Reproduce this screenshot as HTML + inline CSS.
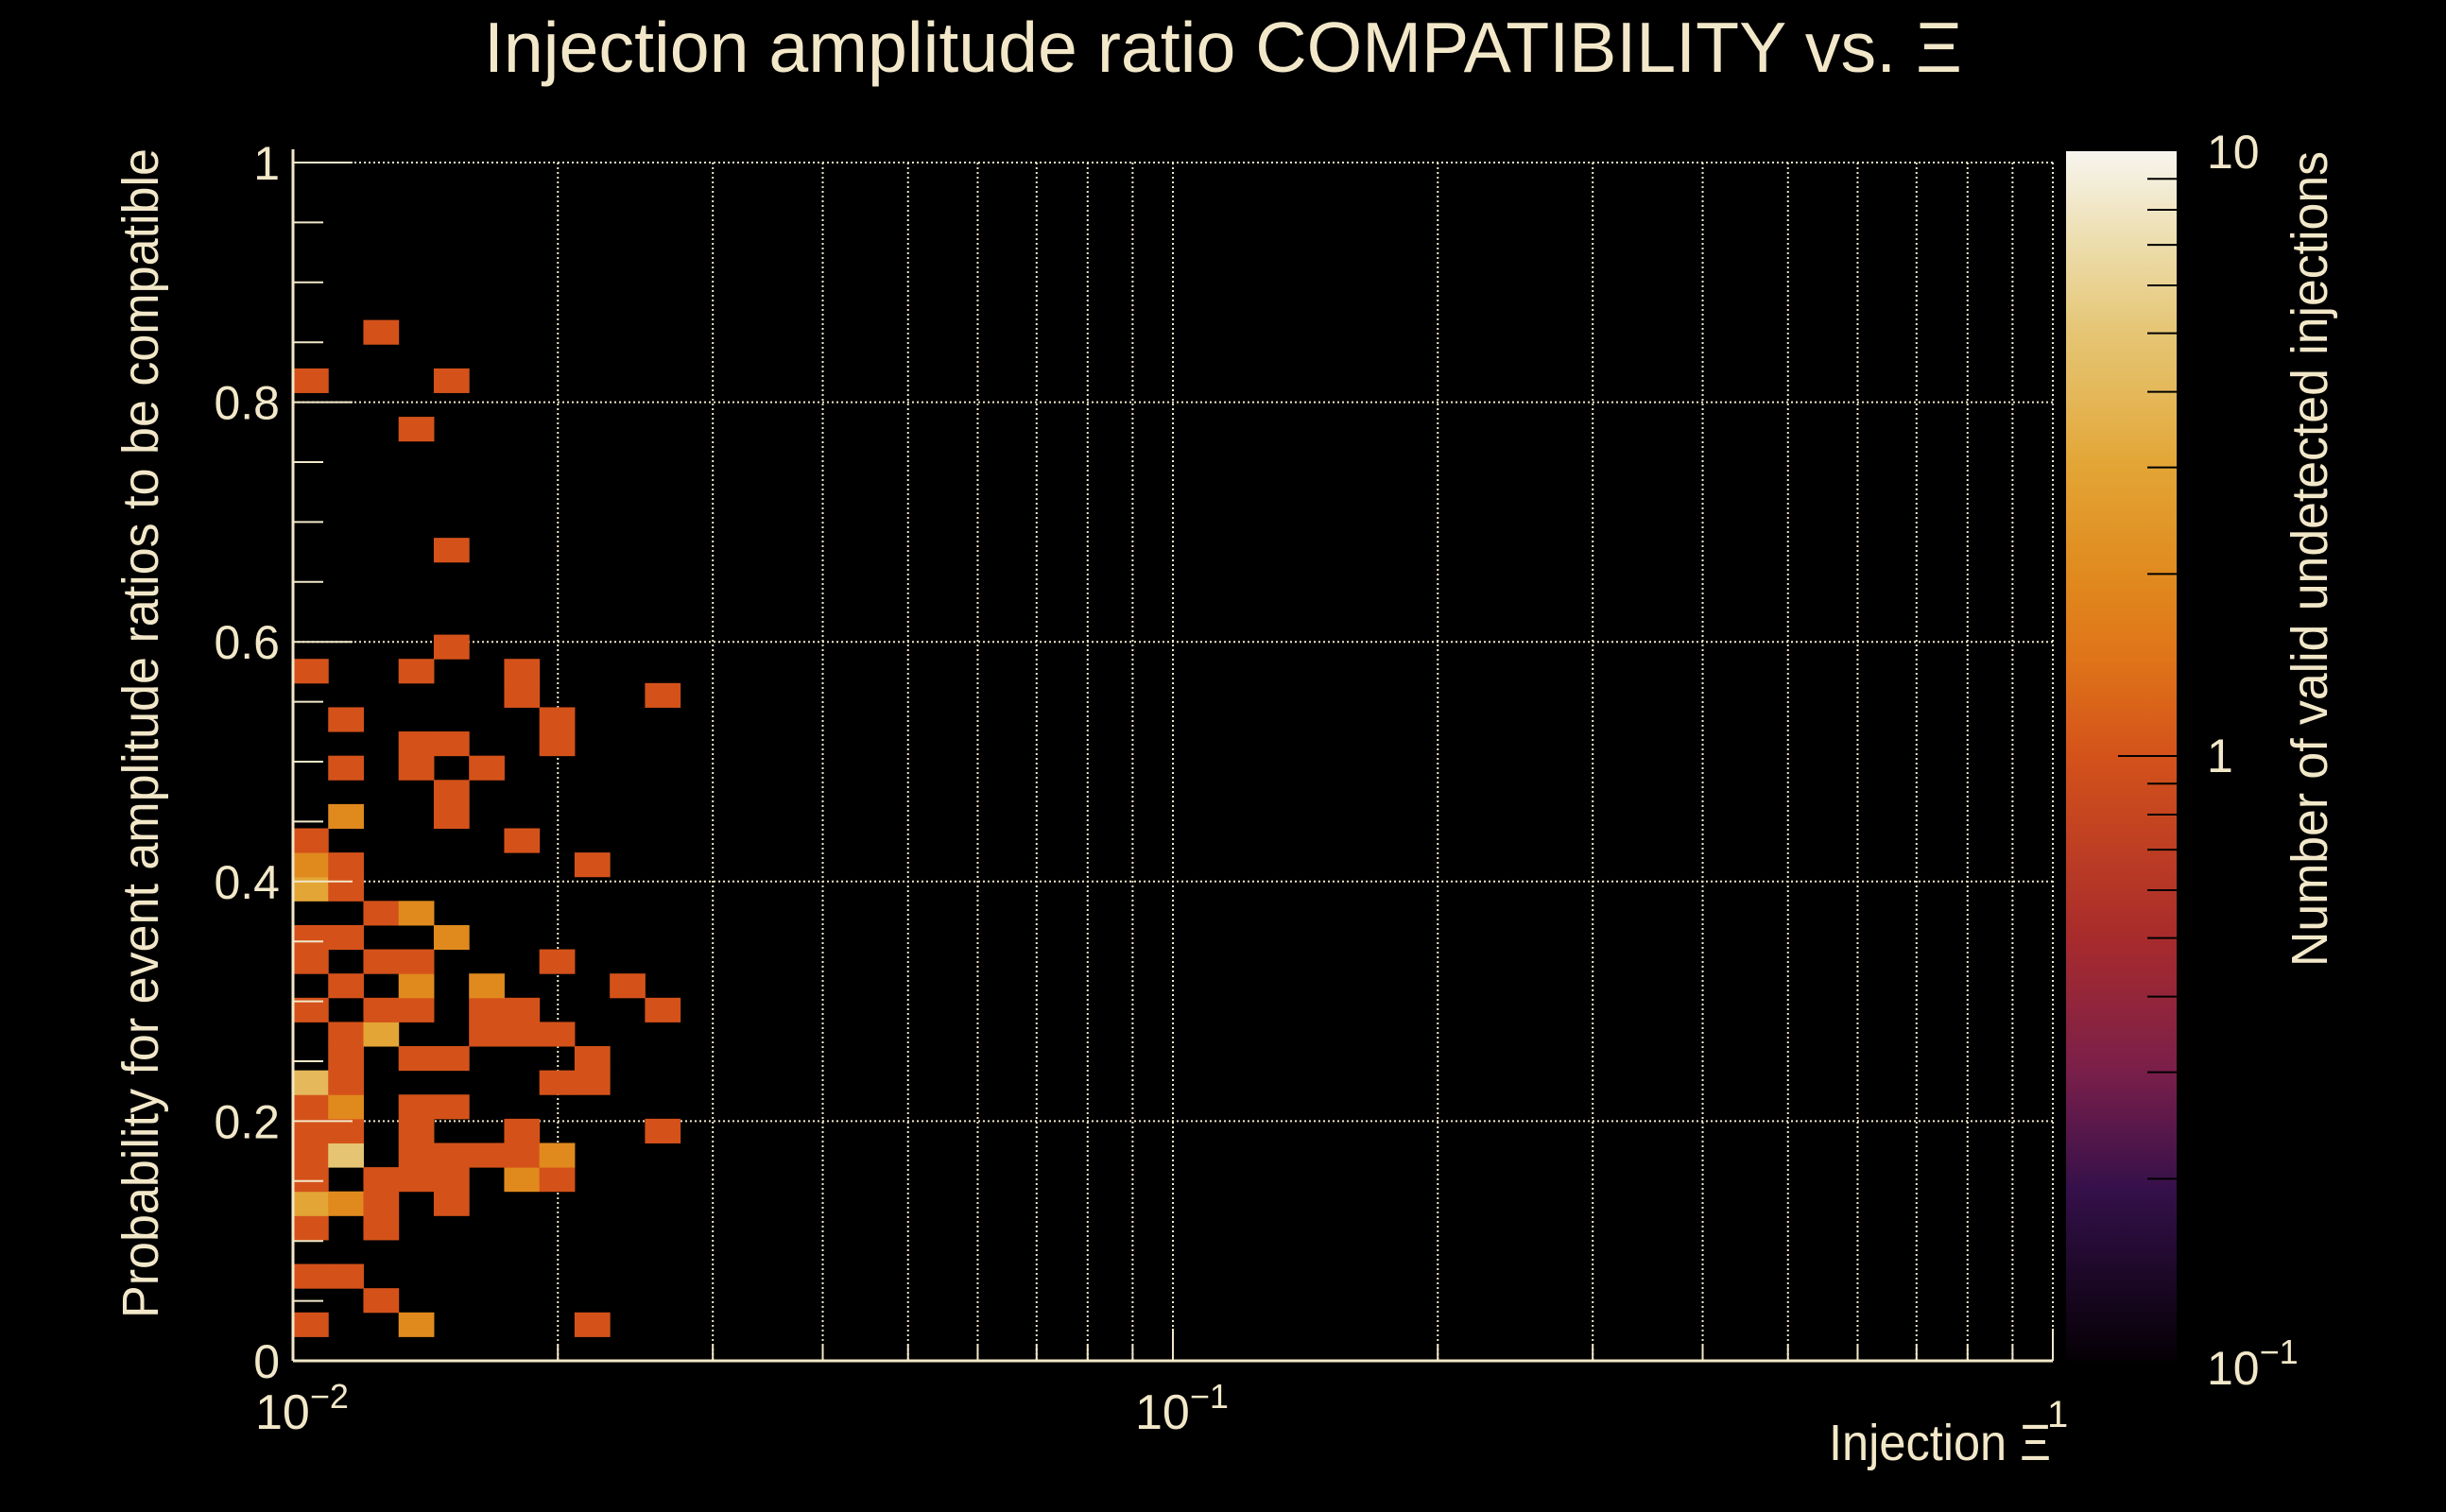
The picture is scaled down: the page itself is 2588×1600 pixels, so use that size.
<!DOCTYPE html>
<html><head><meta charset="utf-8"><style>
html,body{margin:0;padding:0;background:#000;}
svg{display:block;}
text{font-family:"Liberation Sans",sans-serif;fill:#f2e8c9;}
</style></head><body>
<svg id="chart" width="2588" height="1600" viewBox="0 0 2588 1600" xmlns="http://www.w3.org/2000/svg">
<defs>
<linearGradient id="cbgrad" x1="0" y1="1" x2="0" y2="0"></linearGradient>
</defs>
<rect x="0" y="0" width="2588" height="1600" fill="#000"/>
<text x="512" y="76" font-size="75" textLength="1564" lengthAdjust="spacingAndGlyphs">Injection amplitude ratio COMPATIBILITY vs.  Ξ</text>
<g id="grid"></g>
<g id="cells"></g>
<g id="axes"></g>
<g id="colorbar"></g>
<text x="1935" y="1545" font-size="54" textLength="235" lengthAdjust="spacingAndGlyphs">Injection Ξ</text>
<text transform="translate(167,1395) rotate(-90)" x="0" y="0" font-size="54" textLength="1238" lengthAdjust="spacingAndGlyphs">Probability for event amplitude ratios to be compatible</text>
<text transform="translate(2462,1023) rotate(-90)" x="0" y="0" font-size="54" textLength="863" lengthAdjust="spacingAndGlyphs">Number of valid undetected injections</text>
</svg>
<script>
// ---- data ----
const cellCols   = [0,3,8, 2, 0,1, 0,2, 0,1,2,4, 0,2,3,4,6,7, 0,1,3,4,5,6,7, 0,1,3,6,10, 0,1,3,4, 0,1,7,8, 1,3,4,8, 1,2,5,6,7, 0,2,3,5,6,10, 1,3,5,9, 0,2,3,7, 0,1,4, 2,3, 0,1, 0,1,8, 0,6, 1,4, 4, 1,3,5, 3,4,7, 1,7, 6,10, 0,3,6, 4, 4, 3, 0,4, 2];
const cellRows   = [1,1,1, 2, 3,3, 5,5, 6,6,6,6, 7,7,7,7,7,7, 8,8,8,8,8,8,8, 9,9,9,9,9, 10,10,10,10, 11,11,11,11, 12,12,12,12, 13,13,13,13,13, 14,14,14,14,14,14, 15,15,15,15, 16,16,16,16, 17,17,17, 18,18, 19,19, 20,20,20, 21,21, 22,22, 23, 24,24,24, 25,25,25, 26,26, 27,27, 28,28,28, 29, 33, 38, 40,40, 42];
const cellCounts = [1,2,1, 1, 1,1, 1,1, 3,2,1,1, 1,1,1,1,2,1, 1,5,1,1,1,1,2, 1,1,1,1,1, 1,2,1,1, 4,1,1,1, 1,1,1,1, 1,3,1,1,1, 1,1,1,1,1,1, 1,2,2,1, 1,1,1,1, 1,1,2, 1,2, 3,1, 2,1,1, 1,1, 2,1, 1, 1,1,1, 1,1,1, 1,1, 1,1, 1,1,1, 1, 1, 1, 1,1, 1];
const xBinsPerDecade = 25, yBinWidth = 0.0202;
const yTickValues = [0,0.2,0.4,0.6,0.8,1];
const yTickLabels = ["0","0.2","0.4","0.6","0.8","1"];
const xDecades = [0.01,0.1,1];
const zMin = 0.1, zMax = 10;

// ---- geometry ----
const PX0=310, PX1=2172, PY0=1440, PY1=172;
const CB_X0=2186, CB_X1=2303, CB_Y0=1440, CB_Y1=160;
const xScale = v => PX0 + (Math.log10(v)+2)/2*(PX1-PX0);
const yScale = v => PY0 - v*(PY0-PY1);
const zFrac = v => (Math.log10(v)-Math.log10(zMin))/(Math.log10(zMax)-Math.log10(zMin));
const cbScale = v => CB_Y0 - zFrac(v)*(CB_Y0-CB_Y1);
const stops = [[0,"#050005"],[0.14,"#34104a"],[0.24,"#7a1f4a"],[0.35,"#a82b2c"],[0.5,"#d4521a"],[0.58,"#df7419"],[0.65,"#e08a1e"],[0.74,"#e3a535"],[0.80,"#e4b85a"],[0.85,"#e5c574"],[0.92,"#ecdcaa"],[1,"#f7f5ee"]];
function hex(c){return [1,3,5].map(i=>parseInt(c.substr(i,2),16));}
function cmap(f){
  f=Math.max(0,Math.min(1,f));
  for(let i=1;i<stops.length;i++){ if(f<=stops[i][0]){
    const a=stops[i-1],b=stops[i],t=(f-a[0])/(b[0]-a[0]);
    const ca=hex(a[1]),cb=hex(b[1]);
    return "rgb("+ca.map((v,k)=>Math.round(v+(cb[k]-v)*t)).join(",")+")";}}
  return stops[stops.length-1][1];
}
const NS="http://www.w3.org/2000/svg";
function mk(tag,attrs,parent){const e=document.createElementNS(NS,tag);for(const k in attrs)e.setAttribute(k,attrs[k]);parent.appendChild(e);return e;}
const cream="#f2e8c9";
const grid=document.getElementById('grid'), cells=document.getElementById('cells'), axes=document.getElementById('axes'), cbar=document.getElementById('colorbar');

// gridlines
for(let d=0; d<2; d++){ for(let m=1;m<=10;m++){ if(d===0&&m===1)continue; const v=xDecades[d]*m; const x=xScale(v);
  const l=mk('line',{x1:x,y1:PY1,x2:x,y2:PY0,stroke:cream,'stroke-width':2,'stroke-dasharray':'2 3'},grid);
  
  
}}
yTickValues.forEach(v=>{ if(v===0)return; const y=yScale(v);
  const l=mk('line',{x1:PX0,y1:y,x2:PX1,y2:y,stroke:cream,'stroke-width':2,'stroke-dasharray':'2 3'},grid);
  
  
});

// cells
for(let i=0;i<cellCols.length;i++){
  const c=cellCols[i], r=cellRows[i];
  const xa=xScale(0.01*Math.pow(10,c/xBinsPerDecade)), xb=xScale(0.01*Math.pow(10,(c+1)/xBinsPerDecade));
  const ya=yScale(r*yBinWidth), yb=yScale((r+1)*yBinWidth);
  const rc=mk('rect',{x:xa,y:yb,width:xb-xa+0.5,height:ya-yb+0.5,fill:cmap(zFrac(cellCounts[i]))},cells);
  
  
}

// axes lines
let e;
e=mk('line',{x1:PX0,y1:PY1-14,x2:PX0,y2:PY0,stroke:cream,'stroke-width':3},axes);


e=mk('line',{x1:PX0,y1:PY0,x2:PX1,y2:PY0,stroke:cream,'stroke-width':3},axes);


// y ticks
for(let k=0;k<=20;k++){ const v=k*0.05, y=yScale(v), major=(k%4===0);
  e=mk('line',{x1:PX0,y1:y,x2:PX0+(major?63:32),y2:y,stroke:cream,'stroke-width':2},axes);
  
  
}
yTickValues.forEach((v,i)=>{
  const t=mk('text',{x:296,y:yScale(v)+18,'font-size':50,'text-anchor':'end'},axes);
  t.textContent=yTickLabels[i];
  
  
});
// x ticks
for(let d=0; d<2; d++){ for(let m=1;m<=10;m++){ const v=xDecades[d]*m; const x=xScale(v); const major=(m===1||m===10);
  e=mk('line',{x1:x,y1:PY0,x2:x,y2:PY0-(major?34:17),stroke:cream,'stroke-width':2},axes);
  
  
}}
xDecades.forEach((v,i)=>{
  if(i<2){
    const t=mk('text',{x:xScale(v)-40,y:1512,'font-size':52},axes);
    
    
    const a=mk('tspan',{},t); a.textContent="10";
    const b=mk('tspan',{dy:-22,'font-size':36},t); b.textContent=(i===0?"−2":"−1");
  } else {
    const t=mk('text',{x:xScale(v)-6,y:1510,'font-size':40},axes);
    t.textContent="1";
    
    
  }
});

// colorbar
const grad=document.getElementById('cbgrad');
stops.forEach(s=>mk('stop',{offset:s[0],'stop-color':s[1]},grad));
e=mk('rect',{x:CB_X0,y:CB_Y1,width:CB_X1-CB_X0,height:CB_Y0-CB_Y1,fill:'url(#cbgrad)'},cbar);


[0.1,1].forEach(dec=>{ for(let m=1;m<=9;m++){ const v=dec*m; if(v<=zMin)continue; const y=cbScale(v); const major=(m===1);
  e=mk('line',{x1:CB_X1-(major?62:31),y1:y,x2:CB_X1,y2:y,stroke:'#000','stroke-width':2},cbar);
  
  
}});
let t;
t=mk('text',{x:2335,y:178,'font-size':50},cbar); t.textContent="10";


t=mk('text',{x:2335,y:cbScale(1)+17,'font-size':50},cbar); t.textContent="1";


t=mk('text',{x:2335,y:1465,'font-size':50},cbar);


mk('tspan',{},t).textContent="10";
mk('tspan',{dy:-22,'font-size':36},t).textContent="−1";
</script>
</body></html>
